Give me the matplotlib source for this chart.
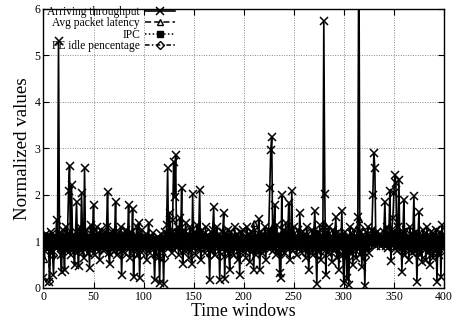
import matplotlib
matplotlib.use("Agg")
import matplotlib.pyplot as plt
import numpy as np

# time windows 0..399
windows = list(range(400))

throughput = [
    0.2, 1.05, 0.8, 1.15, 0.9, 1.1, 0.13, 0.95, 1.2, 0.75, 0.27, 1.1, 0.85, 1.45, 0.9, 5.3, 1.0, 0.7, 0.35, 1.25,
    0.95, 0.38, 1.3, 0.8, 1.15, 2.07, 2.62, 0.7, 2.21, 1.1, 0.85, 0.49, 1.2, 1.85, 0.9, 0.46, 1.3, 0.8, 2.03, 1.15,
    0.65, 2.57, 1.0, 1.25, 0.75, 1.1, 0.42, 1.35, 0.9, 1.2, 1.78, 0.7, 1.05, 1.3, 0.85, 1.15, 0.6, 1.25, 0.95, 1.1,
    0.8, 1.2, 0.9, 1.3, 2.05, 0.75, 0.52, 1.15, 0.95, 1.25, 0.8, 1.1, 1.85, 0.7, 1.05, 1.2, 0.85, 1.3, 0.27, 1.0,
    1.15, 0.75, 1.25, 0.9, 1.1, 1.78, 0.65, 1.2, 0.95, 1.69, 0.24, 1.1, 0.85, 1.3, 0.7, 1.39, 0.2, 1.05, 1.25, 0.8,
    1.1, 0.9, 1.15, 0.6, 1.05, 1.39, 0.75, 1.1, 0.85, 1.18, 0.95, 0.16, 1.05, 0.7, 1.1, 0.9, 0.11, 1.15, 0.8, 1.05,
    0.08, 1.2, 0.9, 1.35, 2.57, 0.85, 1.6, 1.1, 0.75, 1.45, 2.71, 1.96, 2.85, 0.9, 1.3, 0.7, 1.5, 1.1, 2.14, 0.52,
    1.25, 0.8, 1.4, 0.9, 1.15, 0.65, 1.3, 1.0, 0.52, 2.01, 0.85, 1.2, 0.7, 1.35, 0.95, 1.1, 2.1, 0.6, 1.25, 0.9,
    1.15, 0.75, 1.3, 0.85, 1.1, 0.95, 0.16, 1.2, 0.8, 1.25, 1.74, 0.7, 1.05, 1.3, 0.9, 1.15, 0.17, 1.1, 0.85, 1.2,
    1.6, 0.18, 1.15, 0.9, 1.25, 0.75, 0.38, 1.2, 0.95, 1.1, 0.7, 1.3, 0.85, 1.15, 0.6, 1.05, 0.27, 1.2, 0.9, 1.25,
    0.8, 1.1, 0.65, 1.3, 0.9, 1.15, 0.55, 1.2, 0.85, 1.05, 0.38, 1.25, 0.7, 1.1, 0.9, 1.47, 0.38, 1.2, 0.75, 1.15,
    0.9, 1.3, 0.6, 1.1, 0.85, 1.25, 2.14, 2.95, 3.25, 0.8, 1.2, 1.78, 0.7, 1.35, 0.9, 1.15, 0.31, 0.2, 2.0, 0.85,
    1.25, 0.75, 1.4, 0.9, 1.15, 1.83, 0.6, 1.1, 2.07, 0.8, 1.3, 0.95, 1.1, 0.7, 1.25, 0.85, 1.6, 1.05, 0.75, 1.2,
    0.9, 1.15, 0.65, 1.3, 0.85, 0.38, 1.1, 0.95, 1.25, 0.7, 1.15, 1.64, 0.9, 0.08, 1.2, 0.8, 1.35, 0.6, 1.1, 0.85,
    5.73, 2.01, 0.27, 1.2, 0.75, 1.3, 0.9, 1.1, 0.55, 1.25, 0.8, 1.15, 1.53, 0.65, 1.2, 0.38, 1.05, 0.9, 1.64, 0.7,
    0.1, 1.2, 0.85, 0.2, 1.1, 0.06, 1.3, 0.75, 1.15, 0.5, 1.25, 0.9, 0.65, 1.1, 1.53, 8.0, 0.7, 1.2, 0.45, 1.05,
    0.85, 0.04, 1.2, 0.9, 1.3, 0.75, 1.1, 0.95, 1.25, 2.0, 2.9, 2.57, 0.9, 1.2, 1.05, 0.95, 1.15, 0.9, 1.1, 1.0,
    1.2, 1.85, 0.9, 1.3, 0.85, 1.15, 2.07, 0.57, 1.25, 1.5, 2.03, 2.42, 2.25, 0.8, 1.3, 2.32, 0.9, 1.15, 0.35, 1.2,
    1.89, 0.7, 1.25, 0.85, 1.1, 0.6, 1.3, 0.9, 0.75, 1.15, 1.97, 0.8, 1.2, 0.13, 1.05, 1.62, 0.7, 1.1, 0.55, 1.25,
    0.85, 1.15, 0.6, 1.3, 0.75, 1.1, 0.5, 1.2, 0.9, 0.65, 1.15, 0.8, 1.25, 0.13, 1.05, 0.7, 1.2, 0.24, 1.35, 1.0,
]

latency = [
    1.0, 0.62, 1.08, 0.93, 1.12, 0.88, 1.02, 1.06, 0.95, 1.14, 0.9, 1.03, 1.1, 0.96, 1.18, 1.05, 0.91, 1.0, 0.87, 1.09,
    0.94, 1.04, 1.12, 0.9, 1.01, 1.16, 0.95, 1.07, 0.86, 1.02, 1.11, 0.93, 1.05, 0.89, 1.2, 1.0, 0.94, 1.1, 0.9, 1.06,
    1.01, 0.91, 1.14, 0.96, 1.04, 0.99, 0.86, 1.1, 0.94, 1.02, 1.07, 0.9, 1.12, 0.98, 0.93, 1.15, 0.89, 1.06, 1.0, 0.95,
    1.08, 0.92, 1.03, 1.13, 0.88, 1.05, 0.97, 1.11, 0.9, 1.0, 1.17, 0.93, 1.04, 0.87, 1.09, 0.99, 1.12, 0.91, 1.02, 0.96,
    1.1, 0.94, 1.06, 0.89, 1.13, 1.0, 0.92, 1.08, 0.97, 1.15, 0.88, 1.03, 0.95, 1.11, 0.9, 1.05, 0.98, 1.12, 0.93, 1.01,
    0.96, 1.07, 0.91, 1.04, 0.99, 1.1, 0.94, 1.02, 0.97, 1.06, 0.92, 1.0, 1.05, 0.95, 1.03, 0.98, 1.08, 0.93, 1.01, 0.97,
    1.04, 0.9, 1.12, 0.95, 1.18, 0.92, 1.25, 1.0, 0.88, 1.14, 1.22, 0.97, 1.1, 0.91, 1.07, 0.94, 1.15, 1.0, 1.2, 0.89,
    1.06, 0.93, 1.13, 0.96, 1.02, 0.88, 1.11, 0.99, 0.91, 1.16, 0.95, 1.05, 0.9, 1.1, 0.97, 1.03, 1.14, 0.87, 1.08, 0.98,
    1.02, 0.92, 1.09, 0.95, 1.12, 0.99, 0.86, 1.07, 0.94, 1.1, 1.15, 0.9, 1.04, 1.11, 0.96, 1.06, 0.88, 1.03, 0.97, 1.08,
    1.13, 0.89, 1.05, 0.94, 1.1, 0.91, 0.87, 1.06, 0.98, 1.02, 0.92, 1.12, 0.95, 1.04, 0.9, 1.0, 0.86, 1.07, 0.96, 1.11,
    0.93, 1.03, 0.9, 1.1, 0.97, 1.05, 0.89, 1.08, 0.94, 1.02, 1.4, 1.06, 0.92, 1.0, 0.95, 1.15, 0.9, 1.04, 0.93, 1.09,
    0.97, 1.12, 0.9, 1.03, 0.95, 1.08, 1.2, 1.25, 1.3, 0.93, 1.06, 1.14, 0.9, 1.1, 0.96, 1.02, 0.88, 0.85, 1.15, 0.94,
    1.09, 0.92, 1.13, 0.97, 1.04, 1.12, 0.89, 1.02, 1.16, 0.93, 1.08, 0.99, 1.03, 0.91, 1.1, 0.95, 1.12, 1.0, 0.92, 1.06,
    0.98, 1.05, 0.91, 1.11, 0.95, 0.88, 1.03, 0.99, 1.09, 0.92, 1.04, 1.13, 0.96, 0.86, 1.07, 0.94, 1.1, 0.9, 1.02, 0.97,
    1.39, 1.15, 0.88, 1.06, 0.93, 1.1, 0.97, 1.03, 0.89, 1.08, 0.95, 1.02, 1.12, 0.91, 1.05, 0.9, 1.01, 0.96, 1.13, 0.92,
    0.87, 1.06, 0.95, 0.9, 1.03, 0.86, 1.1, 0.94, 1.05, 0.9, 1.08, 0.98, 0.93, 1.04, 1.15, 1.47, 0.94, 1.07, 0.9, 1.02,
    0.96, 0.85, 1.06, 0.98, 1.09, 0.93, 1.03, 1.0, 1.07, 1.15, 1.22, 1.18, 1.0, 1.05, 0.98, 1.02, 1.06, 0.99, 1.03, 1.01,
    1.06, 1.12, 0.97, 1.08, 0.94, 1.04, 1.15, 0.9, 1.07, 1.1, 1.16, 1.2, 1.14, 0.93, 1.09, 1.18, 0.96, 1.04, 0.88, 1.07,
    1.13, 0.92, 1.06, 0.95, 1.03, 0.9, 1.1, 0.97, 0.93, 1.05, 1.14, 0.94, 1.07, 0.86, 1.02, 1.11, 0.92, 1.04, 0.9, 1.08,
    0.95, 1.03, 0.91, 1.09, 0.94, 1.02, 0.88, 1.06, 0.97, 0.92, 1.04, 0.95, 1.08, 0.87, 1.01, 0.93, 1.06, 0.9, 1.12, 1.0,
]

ipc = [
    1.02, 0.97, 1.04, 0.95, 1.06, 0.98, 1.01, 0.94, 1.05, 0.99, 1.03, 0.96, 1.07, 1.0, 0.95, 1.04, 0.98, 1.02, 0.93, 1.05,
    0.97, 1.03, 0.99, 1.06, 0.94, 1.01, 1.05, 0.96, 1.02, 0.98, 1.07, 0.95, 1.0, 1.04, 0.97, 1.03, 0.93, 1.06, 0.99, 1.02,
    0.96, 1.04, 1.0, 0.94, 1.05, 0.98, 1.02, 0.95, 1.06, 0.99, 1.01, 0.97, 1.04, 0.93, 1.03, 1.0, 0.96, 1.05, 0.98, 1.02,
    1.04, 0.95, 1.01, 0.98, 1.06, 0.94, 1.03, 0.99, 1.05, 0.96, 1.0, 1.04, 0.97, 1.02, 0.95, 1.06, 0.98, 1.01, 0.94, 1.03,
    0.99, 1.05, 0.96, 1.02, 0.98, 1.04, 0.93, 1.01, 1.06, 0.97, 1.03, 0.95, 1.0, 1.05, 0.98, 1.02, 0.96, 1.04, 0.99, 1.01,
    1.03, 0.97, 1.0, 0.95, 1.02, 0.99, 1.04, 0.96, 1.01, 0.98, 1.03, 0.97, 1.0, 1.02, 0.96, 1.01, 0.98, 1.03, 0.97, 1.0,
    0.95, 1.04, 0.98, 1.06, 1.02, 0.97, 1.08, 0.99, 1.03, 0.95, 1.07, 1.01, 1.05, 0.98, 1.02, 0.96, 1.04, 1.0, 1.06, 0.97,
    1.02, 0.98, 1.05, 0.96, 1.03, 0.99, 1.01, 0.95, 1.04, 1.0, 0.97, 1.06, 0.98, 1.02, 0.94, 1.05, 0.99, 1.03, 0.96, 1.01,
    1.04, 0.97, 1.02, 0.99, 1.05, 0.95, 1.0, 1.03, 0.98, 1.06, 0.96, 1.01, 1.04, 0.97, 1.02, 0.99, 0.94, 1.05, 0.98, 1.03,
    1.01, 0.96, 1.04, 0.98, 1.02, 0.95, 1.06, 0.99, 1.03, 0.97, 1.0, 1.05, 0.96, 1.02, 0.98, 1.04, 0.95, 1.01, 0.99, 1.03,
    0.97, 1.02, 0.95, 1.04, 1.0, 0.98, 1.05, 0.96, 1.03, 0.99, 1.06, 1.01, 0.97, 1.04, 0.98, 1.02, 0.95, 1.05, 0.99, 1.01,
    1.03, 0.96, 1.02, 0.98, 1.05, 0.99, 1.07, 1.09, 1.1, 0.97, 1.03, 1.05, 0.96, 1.02, 0.98, 1.04, 0.94, 0.95, 1.06, 0.99,
    1.02, 0.97, 1.05, 0.99, 1.03, 1.06, 0.95, 1.01, 1.04, 0.98, 1.02, 0.96, 1.04, 1.0, 0.97, 1.03, 1.05, 0.99, 0.96, 1.02,
    1.0, 1.04, 0.97, 1.02, 0.99, 0.95, 1.03, 0.98, 1.05, 0.96, 1.01, 1.04, 0.98, 0.94, 1.02, 0.99, 1.05, 0.97, 1.01, 0.98,
    1.1, 1.06, 0.95, 1.02, 0.98, 1.04, 0.99, 1.01, 0.96, 1.03, 0.98, 1.02, 1.05, 0.97, 1.01, 0.95, 1.03, 0.99, 1.04, 0.97,
    0.94, 1.03, 0.99, 0.96, 1.02, 0.95, 1.04, 0.98, 1.01, 0.96, 1.03, 1.0, 0.97, 1.02, 1.05, 1.12, 0.98, 1.03, 0.96, 1.01,
    0.99, 0.95, 1.02, 1.0, 1.04, 0.98, 1.01, 0.99, 1.03, 1.06, 1.08, 1.07, 1.01, 1.02, 0.99, 1.0, 1.03, 0.98, 1.02, 1.0,
    1.03, 1.05, 0.99, 1.04, 0.97, 1.02, 1.06, 0.96, 1.03, 1.04, 1.07, 1.08, 1.06, 0.98, 1.03, 1.07, 0.99, 1.02, 0.95, 1.04,
    1.05, 0.97, 1.02, 0.99, 1.01, 0.96, 1.04, 0.98, 0.97, 1.02, 1.06, 0.98, 1.03, 0.94, 1.01, 1.05, 0.97, 1.02, 0.96, 1.03,
    0.98, 1.02, 0.96, 1.04, 0.98, 1.01, 0.95, 1.03, 0.99, 0.97, 1.02, 0.98, 1.04, 0.95, 1.0, 0.97, 1.03, 0.96, 1.05, 1.01,
]

pe_idle = [
    0.95, 1.08, 0.9, 1.12, 0.93, 1.05, 0.15, 1.1, 0.88, 1.03, 0.7, 1.15, 0.92, 1.06, 0.89, 1.13, 0.96, 1.02, 0.85, 1.09,
    1.04, 0.78, 1.11, 0.94, 1.07, 0.9, 1.14, 0.87, 1.05, 0.97, 0.91, 0.82, 1.08, 0.95, 1.12, 0.8, 1.03, 0.92, 1.1, 0.96,
    0.9, 1.13, 0.98, 1.06, 0.88, 1.02, 0.76, 1.09, 0.94, 1.04, 1.1, 0.9, 1.01, 1.08, 0.93, 1.05, 0.83, 1.11, 0.97, 1.03,
    0.91, 1.07, 0.95, 1.12, 1.06, 0.89, 0.8, 1.04, 0.98, 1.1, 0.92, 1.02, 1.09, 0.88, 1.05, 1.01, 0.94, 1.08, 0.72, 1.0,
    1.06, 0.9, 1.11, 0.95, 1.03, 1.09, 0.87, 1.05, 0.97, 1.1, 0.74, 1.02, 0.93, 1.08, 0.89, 1.07, 0.7, 1.04, 1.1, 0.92,
    1.03, 0.96, 1.05, 0.86, 1.01, 1.08, 0.9, 1.04, 0.95, 1.02, 0.98, 0.68, 1.03, 0.91, 1.05, 0.97, 0.66, 1.06, 0.94, 1.02,
    0.65, 1.07, 0.95, 1.1, 1.15, 0.93, 1.12, 1.03, 0.9, 1.09, 1.18, 1.1, 1.2, 0.96, 1.08, 0.89, 1.1, 1.02, 1.14, 0.82,
    1.08, 0.93, 1.11, 0.96, 1.04, 0.88, 1.09, 1.0, 0.8, 1.13, 0.94, 1.06, 0.9, 1.1, 0.97, 1.03, 1.12, 0.86, 1.07, 0.95,
    1.04, 0.91, 1.09, 0.94, 1.05, 0.98, 0.7, 1.08, 0.92, 1.06, 1.12, 0.89, 1.02, 1.09, 0.95, 1.04, 0.68, 1.05, 0.93, 1.07,
    1.1, 0.72, 1.05, 0.95, 1.08, 0.9, 0.78, 1.06, 0.97, 1.03, 0.89, 1.09, 0.94, 1.05, 0.86, 1.02, 0.75, 1.07, 0.96, 1.08,
    0.92, 1.04, 0.87, 1.1, 0.95, 1.05, 0.84, 1.08, 0.93, 1.02, 0.78, 1.09, 0.9, 1.04, 0.96, 1.12, 0.8, 1.06, 0.91, 1.05,
    0.95, 1.1, 0.86, 1.03, 0.93, 1.08, 1.15, 1.22, 1.25, 0.92, 1.06, 1.12, 0.88, 1.09, 0.95, 1.04, 0.76, 0.72, 1.13, 0.93,
    1.07, 0.9, 1.12, 0.96, 1.04, 1.1, 0.85, 1.03, 1.14, 0.92, 1.08, 0.97, 1.05, 0.9, 1.09, 0.94, 1.11, 1.02, 0.9, 1.06,
    0.96, 1.05, 0.88, 1.1, 0.94, 0.78, 1.04, 0.97, 1.08, 0.9, 1.05, 1.11, 0.95, 0.7, 1.07, 0.92, 1.1, 0.87, 1.03, 0.95,
    1.25, 1.12, 0.75, 1.06, 0.91, 1.09, 0.96, 1.03, 0.85, 1.08, 0.93, 1.04, 1.1, 0.88, 1.06, 0.8, 1.02, 0.95, 1.11, 0.9,
    0.7, 1.06, 0.94, 0.74, 1.03, 0.68, 1.09, 0.92, 1.05, 0.84, 1.08, 0.97, 0.88, 1.04, 1.12, 1.3, 0.9, 1.07, 0.83, 1.02,
    0.95, 0.66, 1.06, 0.97, 1.09, 0.92, 1.03, 0.99, 1.07, 1.13, 1.2, 1.16, 0.99, 1.05, 1.0, 0.98, 1.06, 0.97, 1.04, 1.0,
    1.07, 1.12, 0.96, 1.09, 0.93, 1.05, 1.14, 0.85, 1.08, 1.1, 1.15, 1.18, 1.13, 0.92, 1.09, 1.16, 0.95, 1.05, 0.8, 1.07,
    1.14, 0.9, 1.07, 0.94, 1.04, 0.87, 1.1, 0.96, 0.9, 1.06, 1.13, 0.93, 1.08, 0.74, 1.03, 1.11, 0.9, 1.05, 0.85, 1.08,
    0.94, 1.04, 0.88, 1.09, 0.92, 1.03, 0.84, 1.07, 0.96, 0.9, 1.05, 0.93, 1.09, 0.75, 1.02, 0.91, 1.07, 0.8, 1.12, 1.01,
]

x_ticks = [0, 50, 100, 150, 200, 250, 300, 350, 400]
y_ticks = [0, 1, 2, 3, 4, 5, 6]

plt.rcParams["font.family"] = ["Liberation Serif", "DejaVu Serif"]

fig = plt.figure(figsize=(4.53, 3.2), dpi=100)
ax = fig.add_axes([0.096, 0.1006, 0.884, 0.8728])

ax.plot(windows, throughput, color="black", linestyle="-", linewidth=1.2,
        marker="x", markersize=6, markeredgewidth=1.1, label="Arriving throughput")
ax.plot(windows, latency, color="black", linestyle=(0, (4, 2)), linewidth=1.1,
        marker="^", markersize=5, markerfacecolor="none", markeredgewidth=1.0,
        label="Avg packet latency")
ax.plot(windows, ipc, color="black", linestyle=(0, (1, 1.5)), linewidth=1.1,
        marker="s", markersize=4.5, label="IPC")
ax.plot(windows, pe_idle, color="black", linestyle=(0, (3, 1.5, 1, 1.5)), linewidth=1.1,
        marker="D", markersize=4.5, markerfacecolor="none", markeredgewidth=1.0,
        label="PE idle pencentage")

ax.set_xlim(0, 400)
ax.set_ylim(0, 6)
ax.set_xticks(x_ticks)
ax.set_yticks(y_ticks)
ax.tick_params(direction="in", length=4, width=0.8, top=True, right=True,
               labelsize=8.5, pad=2)
ax.grid(True, color="#888888", linestyle=(0, (1, 1.5)), linewidth=0.7)
ax.set_axisbelow(True)
for side in ax.spines.values():
    side.set_linewidth(1.0)

ax.set_xlabel("Time windows", fontsize=12.7, labelpad=0)
ax.set_ylabel("Normalized values", fontsize=13.7, labelpad=3)

leg = ax.legend(loc="upper left", bbox_to_anchor=(0.01, 1.01), frameon=False,
                markerfirst=False, fontsize=8.3, labelspacing=-0.05,
                handlelength=2.6, handletextpad=0.4, borderpad=0.0,
                borderaxespad=0.0)

fig.savefig("out.png", dpi=100)
